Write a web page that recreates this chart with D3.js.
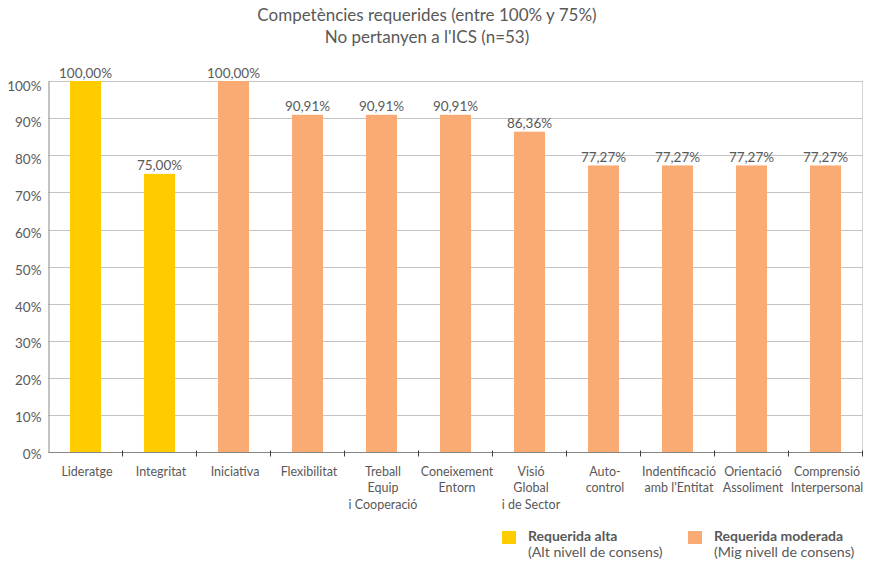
<!DOCTYPE html>
<html>
<head>
<meta charset="utf-8">
<script src="https://cdn.jsdelivr.net/npm/d3@7"></script>
<style>
  html, body { margin: 0; padding: 0; background: #fff; }
  svg { display: block; font-family: Lato, "Open Sans", sans-serif; }
</style>
</head>
<body>
<svg id="chart" width="874" height="563"></svg>
<script>
// Competències: nom (línies de l'etiqueta), percentatge i nivell de consens
const categories = [
  ["Lideratge"],
  ["Integritat"],
  ["Iniciativa"],
  ["Flexibilitat"],
  ["Treball", "Equip", "i Cooperació"],
  ["Coneixement", "Entorn"],
  ["Visió", "Global", "i de Sector"],
  ["Auto-", "control"],
  ["Indentificació", "amb l'Entitat"],
  ["Orientació", "Assoliment"],
  ["Comprensió", "Interpersonal"]
];
const values = [100.00, 75.00, 100.00, 90.91, 90.91, 90.91, 86.36, 77.27, 77.27, 77.27, 77.27];
const levels = ["alta", "alta", "moderada", "moderada", "moderada", "moderada",
                "moderada", "moderada", "moderada", "moderada", "moderada"];
const yTicks = [0, 10, 20, 30, 40, 50, 60, 70, 80, 90, 100];
const titleLines = ["Competències requerides (entre 100% y 75%)", "No pertanyen a l'ICS (n=53)"];
const legendItems = [
  { key: "alta", title: "Requerida alta", sub: "(Alt nivell de consens)" },
  { key: "moderada", title: "Requerida moderada", sub: "(Mig nivell de consens)" }
];

const colors = { alta: "#FFCC00", moderada: "#F9AB73" };
const textColor = "#595959";

const svg = d3.select("#chart");
const margin = { left: 48.5, right: 11.5, top: 81, bottom: 110.5 };
const W = 874, H = 563;
const x0 = margin.left, x1 = W - margin.right;
const y0 = H - margin.bottom, y1 = margin.top;

const idx = d3.range(categories.length);
const x = d3.scaleBand().domain(idx).range([x0, x1]).paddingInner(0).paddingOuter(0);
const y = d3.scaleLinear().domain([0, 100]).range([y0, y1]);

// Title
svg.append("g").selectAll("text").data(titleLines).join("text")
  .attr("x", 427).attr("y", (d, i) => 21 + i * 22)
  .attr("text-anchor", "middle")
  .attr("font-size", 17)
  .attr("fill", textColor)
  .text(d => d);

// Right border of the plot area
svg.append("line")
  .attr("x1", x1).attr("x2", x1).attr("y1", y1).attr("y2", y0)
  .attr("stroke", "#d4d4d4").attr("stroke-width", 1);

// Gridlines
svg.append("g").selectAll("line").data(yTicks.filter(t => t > 0)).join("line")
  .attr("x1", x0).attr("x2", x1)
  .attr("y1", d => Math.round(y(d)) + 0.5).attr("y2", d => Math.round(y(d)) + 0.5)
  .attr("stroke", "#c4c4c4").attr("stroke-width", 1);

// Y axis
const yAxis = d3.axisLeft(y).tickValues(yTicks).tickFormat(d => d + "%").tickSize(0).tickPadding(7);
const gy = svg.append("g").attr("transform", `translate(${x0},0)`).call(yAxis);
gy.select(".domain").attr("stroke", "#868686");
gy.selectAll("text").attr("font-size", 13.5).attr("fill", textColor)
  .attr("font-family", "Lato, 'Open Sans', sans-serif")
  .attr("dy", d => (2.6 + d * 0.03).toFixed(1) + "px")
  .attr("dominant-baseline", "middle");

// Bars
const barW = x.bandwidth() * 0.42;
svg.append("g").selectAll("rect").data(idx).join("rect")
  .attr("x", i => x(i) + (x.bandwidth() - barW) / 2)
  .attr("y", i => y(values[i]))
  .attr("width", barW)
  .attr("height", i => y(0) - y(values[i]))
  .attr("fill", i => colors[levels[i]]);

// Value labels
svg.append("g").selectAll("text").data(idx).join("text")
  .attr("x", i => x(i) + x.bandwidth() / 2)
  .attr("y", i => y(values[i]) - 3.5)
  .attr("text-anchor", "middle")
  .attr("font-size", 13.5)
  .attr("fill", textColor)
  .text(i => values[i].toFixed(2).replace(".", ",") + "%");

// X axis line and category boundary ticks
svg.append("line")
  .attr("x1", x0).attr("x2", x1).attr("y1", y0).attr("y2", y0)
  .attr("stroke", "#868686").attr("stroke-width", 1.2);
svg.append("g").selectAll("line").data(idx.slice(1).concat([categories.length])).join("line")
  .attr("x1", i => i < categories.length ? x(i) : x1)
  .attr("x2", i => i < categories.length ? x(i) : x1)
  .attr("y1", y0 - 2).attr("y2", y0 + 4)
  .attr("stroke", "#404040").attr("stroke-width", 1);

// Category labels
const xl = svg.append("g").selectAll("text").data(idx).join("text")
  .attr("x", i => x(i) + x.bandwidth() / 2 + 1.5)
  .attr("y", 475.5)
  .attr("text-anchor", "middle")
  .attr("font-size", 12.5)
  .attr("fill", textColor);
xl.selectAll("tspan").data(i => categories[i]).join("tspan")
  .attr("x", function () { return d3.select(this.parentNode).attr("x"); })
  .attr("dy", (d, j) => j === 0 ? 0 : 16.5)
  .text(d => d);

// Legend
const legendX = [502, 688];
const lg = svg.append("g").selectAll("g").data(legendItems).join("g")
  .attr("transform", (d, i) => `translate(${legendX[i]},531)`);
lg.append("rect").attr("width", 14).attr("height", 13).attr("fill", d => colors[d.key]);
lg.append("text").attr("x", 26).attr("y", 10).attr("font-size", 14)
  .attr("font-weight", "bold").attr("fill", textColor).text(d => d.title);
lg.append("text").attr("x", 26).attr("y", 26).attr("font-size", 14.2)
  .attr("fill", textColor).text(d => d.sub);
</script>
</body>
</html>
